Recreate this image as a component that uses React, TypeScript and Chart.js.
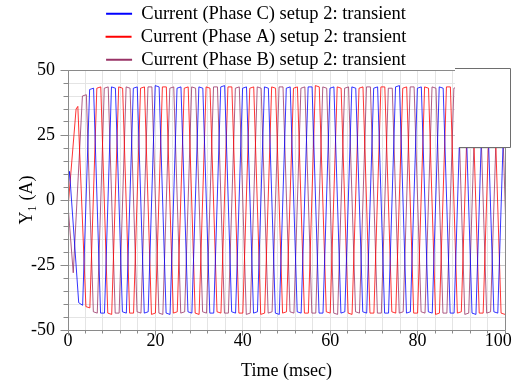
import React, { useEffect, useRef } from "react";
import { Chart, registerables } from "chart.js";

Chart.register(...registerables);

// Phase C (blue): corner points (time ms, current A)
const timeC = [
  0, 0.35, 2.45, 3.35,
  4.95, 5.85, 7.45, 8.35,
  9.95, 10.85, 12.45, 13.35,
  14.95, 15.85, 17.45, 18.35,
  19.95, 20.85, 22.45, 23.35,
  24.95, 25.85, 27.45, 28.35,
  29.95, 30.85, 32.45, 33.35,
  34.95, 35.85, 37.45, 38.35,
  39.95, 40.85, 42.45, 43.35,
  44.95, 45.85, 47.45, 48.35,
  49.95, 50.85, 52.45, 53.35,
  54.95, 55.85, 57.45, 58.35,
  59.95, 60.85, 62.45, 63.35,
  64.95, 65.85, 67.45, 68.35,
  69.95, 70.85, 72.45, 73.35,
  74.95, 75.85, 77.45, 78.35,
  79.95, 80.85, 82.45, 83.35,
  84.95, 85.85, 87.45, 88.35,
  89.95, 90.85, 92.45, 93.35,
  94.95, 95.85, 97.45, 98.35,
  99.95, 100.85,
];
const phaseC = [
  5, 11, -39.5, -40.5,
  42.5, 43, -43.5, -43.5,
  43.5, 43, -43, -43.5,
  43, 43.5, -43.5, -43,
  44, 43.5, -43.5, -44,
  43, 43.5, -43, -43.5,
  43.5, 43, -43.5, -43.5,
  43.5, 44, -43, -43.5,
  43, 43.5, -43.5, -43,
  43.5, 43, -43.5, -44,
  43, 43.5, -43, -43.5,
  43.5, 43.5, -43.5, -43.5,
  43, 43.5, -43.5, -43,
  43.5, 43, -43, -43.5,
  43, 43.5, -43.5, -43.5,
  43.5, 44, -43.5, -43,
  43, 43.5, -43, -43.5,
  43.5, 43, -43.5, -43.5,
  43, 43.5, -43.5, -44,
  43.5, 43, -43, -43.5,
  43, 43.5,
];

// Phase A (red)
const timeA = [
  0, 1.85, 2.25, 4.1, 5.0,
  6.6, 7.5, 9.1, 10.0,
  11.6, 12.5, 14.1, 15.0,
  16.6, 17.5, 19.1, 20.0,
  21.6, 22.5, 24.1, 25.0,
  26.6, 27.5, 29.1, 30.0,
  31.6, 32.5, 34.1, 35.0,
  36.6, 37.5, 39.1, 40.0,
  41.6, 42.5, 44.1, 45.0,
  46.6, 47.5, 49.1, 50.0,
  51.6, 52.5, 54.1, 55.0,
  56.6, 57.5, 59.1, 60.0,
  61.6, 62.5, 64.1, 65.0,
  66.6, 67.5, 69.1, 70.0,
  71.6, 72.5, 74.1, 75.0,
  76.6, 77.5, 79.1, 80.0,
  81.6, 82.5, 84.1, 85.0,
  86.6, 87.5, 89.1, 90.0,
  91.6, 92.5, 94.1, 95.0,
  96.6, 97.5, 99.1, 100.0,
];
const phaseA = [
  -3, 35, 36, -41, -41.5,
  43, 43.5, -43.5, -44,
  43.5, 43, -43.5, -43.5,
  43, 43.5, -44, -43.5,
  43.5, 43.5, -43.5, -43,
  43, 43.5, -43.5, -44,
  43.5, 43, -43, -43.5,
  43.5, 43.5, -43.5, -43.5,
  43, 43.5, -44, -43.5,
  43.5, 43, -43.5, -43,
  43, 43.5, -43.5, -43.5,
  44, 43.5, -43, -43.5,
  43.5, 43, -43.5, -44,
  43, 43.5, -43.5, -43.5,
  43.5, 43.5, -43, -43.5,
  43, 43.5, -43.5, -43.5,
  43.5, 43, -44, -43.5,
  43.5, 43.5, -43.5, -43,
  43, 43.5, -43.5, -43.5,
  43.5, 43, -43.5, -44,
];

// Phase B (purple)
const timeB = [
  0, 1.2, 3.3, 4.2,
  5.8, 6.7, 8.3, 9.2,
  10.8, 11.7, 13.3, 14.2,
  15.8, 16.7, 18.3, 19.2,
  20.8, 21.7, 23.3, 24.2,
  25.8, 26.7, 28.3, 29.2,
  30.8, 31.7, 33.3, 34.2,
  35.8, 36.7, 38.3, 39.2,
  40.8, 41.7, 43.3, 44.2,
  45.8, 46.7, 48.3, 49.2,
  50.8, 51.7, 53.3, 54.2,
  55.8, 56.7, 58.3, 59.2,
  60.8, 61.7, 63.3, 64.2,
  65.8, 66.7, 68.3, 69.2,
  70.8, 71.7, 73.3, 74.2,
  75.8, 76.7, 78.3, 79.2,
  80.8, 81.7, 83.3, 84.2,
  85.8, 86.7, 88.3, 89.2,
  90.8, 91.7, 93.3, 94.2,
  95.8, 96.7, 98.3, 99.2,
  100.8,
];
const phaseB = [
  -2, -28, 40, 40.5,
  -43, -43.5, 43, 43.5,
  -43.5, -43.5, 43.5, 43,
  -43, -43.5, 43.5, 43.5,
  -43.5, -44, 43, 43.5,
  -43.5, -43, 43.5, 43,
  -43, -43.5, 43.5, 43.5,
  -43.5, -43.5, 43, 43.5,
  -44, -43.5, 43.5, 43,
  -43.5, -43, 43.5, 43.5,
  -43, -43.5, 43, 43.5,
  -43.5, -43.5, 43.5, 43,
  -43.5, -44, 43, 43.5,
  -43, -43.5, 43.5, 43.5,
  -43.5, -43.5, 43, 43,
  -43.5, -43, 43.5, 43.5,
  -43, -43.5, 43.5, 43,
  -43.5, -43.5, 43, 43.5,
  -44, -43.5, 43.5, 43.5,
  -43.5, -43, 43, 43.5,
  -43,
];

const seriesNames = [
  "Current (Phase C) setup 2: transient",
  "Current (Phase A) setup 2: transient",
  "Current (Phase B) setup 2: transient",
];
const seriesColors = ["#0000ff", "#ff0000", "#993366"];

const xMajorLabels = [0, 20, 40, 60, 80, 100];
const yMajorLabels = [-50, -25, 0, 25, 50];

const FONT = "'Liberation Serif', 'Times New Roman', serif";

const toPoints = (ts: number[], vs: number[]) => ts.map((t, i) => ({ x: t, y: vs[i] }));

const framePlugin = {
  id: "frame",
  afterDatasetsDraw(chart: any) {
    const { ctx, chartArea: a, scales } = chart;
    const xs = scales.x;
    const ys = scales.y;
    const al = (p: number) => Math.round(p - 0.5) + 0.5;
    const L = al(a.left);
    const R = al(a.right);
    const T = al(a.top);
    const B = al(a.bottom);
    ctx.save();
    ctx.strokeStyle = "#8a8a8a";
    ctx.lineWidth = 1;
    ctx.beginPath();
    ctx.moveTo(L, T);
    ctx.lineTo(R, T);
    ctx.lineTo(R, B);
    ctx.lineTo(L, B);
    ctx.closePath();
    for (const t of xs.ticks) {
      const px = al(xs.getPixelForValue(t.value));
      const major = xMajorLabels.includes(Math.round(t.value));
      ctx.moveTo(px, B);
      ctx.lineTo(px, B + (major ? 5 : 3));
    }
    for (const t of ys.ticks) {
      const py = al(ys.getPixelForValue(t.value));
      const major = yMajorLabels.includes(Math.round(t.value));
      ctx.moveTo(L, py);
      ctx.lineTo(L - (major ? 8 : 5), py);
    }
    ctx.stroke();

    // empty panel in the top-right corner
    const x0 = 455, y0 = 68, x1 = 510.5, y1 = 147.5;
    ctx.fillStyle = "#ffffff";
    ctx.fillRect(x0, y0, x1 - x0 + 1, y1 - y0);
    ctx.strokeStyle = "#6e6e6e";
    ctx.beginPath();
    ctx.moveTo(x0, y0 + 0.5);
    ctx.lineTo(x1, y0 + 0.5);
    ctx.lineTo(x1, y1);
    ctx.lineTo(x0 + 4, y1);
    ctx.stroke();
    ctx.restore();
  },
};

export default function App() {
  const ref = useRef<HTMLCanvasElement>(null);
  useEffect(() => {
    const datasets = [
      toPoints(timeC, phaseC),
      toPoints(timeA, phaseA),
      toPoints(timeB, phaseB),
    ].map((data, i) => ({
      label: seriesNames[i],
      data,
      borderColor: seriesColors[i],
      backgroundColor: seriesColors[i],
      borderWidth: 0.8,
      pointRadius: 0,
      tension: 0,
      fill: false,
    }));

    const font = { family: FONT, size: 18, weight: "normal" };
    const titleFont = { family: FONT, size: 18, weight: 400, lineHeight: 1 };

    const chart = new Chart(ref.current as HTMLCanvasElement, {
      type: "line",
      data: { datasets },
      plugins: [framePlugin],
      options: {
        animation: false,
        responsive: false,
        events: [],
        parsing: false as any,
        layout: { padding: 0 },
        plugins: {
          tooltip: { enabled: false },
          legend: {
            position: "top",
            maxHeight: 70,
            labels: {
              color: "#000",
              font: { family: FONT, size: 18.5, weight: "normal" },
              padding: 4.5,
              usePointStyle: true,
              pointStyle: "line",
              pointStyleWidth: 26,
              generateLabels: (c: any) =>
                Chart.defaults.plugins.legend.labels
                  .generateLabels(c)
                  .map((it: any) => ({ ...it, lineWidth: 2, pointStyle: "line" })),
            },
          } as any,
        },
        scales: {
          x: {
            type: "linear",
            min: 0,
            max: 100,
            afterFit: (s: any) => {
              s.height = 53;
              s.paddingRight = 7;
              s.paddingLeft = 0;
            },
            ticks: {
              stepSize: 4,
              autoSkip: false,
              maxRotation: 0,
              padding: 0,
              color: "#000",
              font,
              callback: (v: any) => {
                const n = Math.round(Number(v));
                if (!xMajorLabels.includes(n)) return "";
                return n === 100 ? "100\u00a0\u00a0\u00a0" : String(n);
              },
            },
            grid: {
              drawTicks: false,
              color: "#e4e4e4",
              lineWidth: 1,
            },
            border: { display: false },
            title: {
              display: true,
              text: "Time (msec)",
              color: "#000",
              font: titleFont,
              padding: { top: 0, bottom: 3 },
            },
          },
          y: {
            type: "linear",
            min: -50,
            max: 50,
            afterFit: (s: any) => {
              s.width = 68;
            },
            ticks: {
              stepSize: 5,
              autoSkip: false,
              padding: 13,
              color: "#000",
              font,
              callback: (v: any) => {
                const n = Math.round(Number(v));
                return yMajorLabels.includes(n) ? String(n) : "";
              },
            },
            grid: {
              drawTicks: false,
              lineWidth: 1,
              color: (c: any) =>
                yMajorLabels.includes(Math.round(c.tick?.value ?? 1)) ? "#c8c8c8" : "#e4e4e4",
            },
            border: { display: false },
            title: {
              display: true,
              text: "Y\u2081 (A)",
              color: "#000",
              font: titleFont,
              padding: { top: 18, bottom: 0 },
            },
          },
        },
      } as any,
    });
    return () => chart.destroy();
  }, []);

  return (
    <div style={{ position: "fixed", left: 0, top: 0, width: 512, height: 383, background: "#fff" }}>
      <canvas ref={ref} width={512} height={383} style={{ display: "block" }} />
    </div>
  );
}
